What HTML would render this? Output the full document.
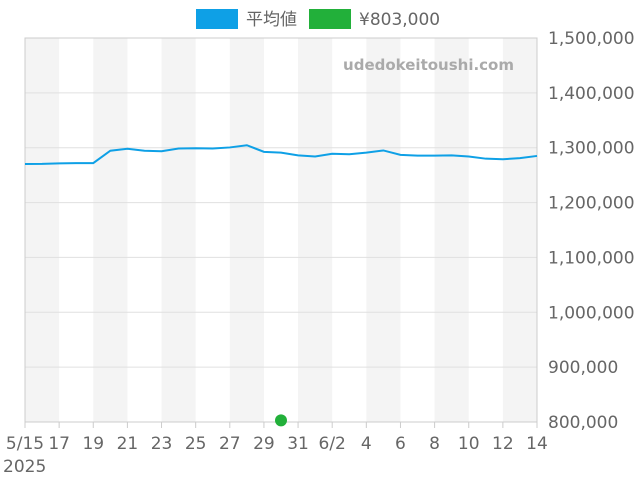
<!DOCTYPE html>
<html><head><meta charset="utf-8"><style>
body{margin:0;background:#fff;font-family:"Liberation Sans","Noto Sans CJK JP",sans-serif}
svg text{font-family:"DejaVu Sans","Liberation Sans","Noto Sans CJK JP",sans-serif}
</style></head><body>
<svg id="c" width="640" height="480"></svg>
<script>
const dates=["5/15","5/16","5/17","5/18","5/19","5/20","5/21","5/22","5/23","5/24","5/25","5/26","5/27","5/28","5/29","5/30","5/31","6/1","6/2","6/3","6/4","6/5","6/6","6/7","6/8","6/9","6/10","6/11","6/12","6/13","6/14"];
const avgValues=[1270300,1270500,1271500,1272000,1272000,1294500,1298000,1294500,1293500,1298500,1299000,1298500,1300500,1304500,1292500,1291000,1286000,1284000,1289000,1288000,1291000,1295000,1287000,1285500,1285500,1286000,1284000,1280000,1279000,1281000,1285000];
const saleIndex=[15];
const saleValues=[803000];
const yTicks=[800000,900000,1000000,1100000,1200000,1300000,1400000,1500000];
const xTickLabels=["5/15","17","19","21","23","25","27","29","31","6/2","4","6","8","10","12","14"];
const L=25,R=537,T=38,B=422,yMin=800000,yMax=1500000;
const xs=i=>L+(R-L)*i/(dates.length-1);
const ys=v=>B-(B-T)*(v-yMin)/(yMax-yMin);
const svg=document.getElementById('c');const NS='http://www.w3.org/2000/svg';
function mk(t,a,p){const e=document.createElementNS(NS,t);for(const k in a)e.setAttribute(k,a[k]);(p||svg).appendChild(e);return e;}
for(let i=0;i<dates.length-1;i+=4){
const r=mk('rect',{x:xs(i),y:T,width:xs(i+2)-xs(i),height:B-T,fill:'#f4f4f4'});

}
yTicks.forEach(v=>{
const l=mk('line',{x1:L,x2:R,y1:ys(v),y2:ys(v),stroke:'#e0e0e0'});


const t=mk('text',{x:548,y:ys(v)+6,'font-size':17,fill:'#666'});t.textContent=v.toLocaleString('en-US');

});
const fr=mk('rect',{x:L,y:T,width:R-L,height:B-T,fill:'none',stroke:'#ccc'});


xTickLabels.forEach((s,k)=>{const i=k*2;
const tk=mk('line',{x1:xs(i),x2:xs(i),y1:B,y2:B+6,stroke:'#ccc'});


const t=mk('text',{x:xs(i),y:B+27,'font-size':17,fill:'#666','text-anchor':'middle'});t.textContent=s;

});
const yr=mk('text',{x:3,y:472,'font-size':17,fill:'#666'});yr.textContent='2025';


const wm=mk('text',{x:514,y:70,'font-size':15,'font-weight':'bold',fill:'#aaa','text-anchor':'end'});wm.textContent='udedokeitoushi.com';


const ln=mk('polyline',{points:avgValues.map((v,i)=>xs(i)+','+ys(v)).join(' '),fill:'none',stroke:'#0ea0e6','stroke-width':2});


saleValues.forEach((v,k)=>{const d=mk('circle',{cx:xs(saleIndex[k]),cy:ys(v),r:6,fill:'#22b03a'});

});
const g=mk('g',{});
const r1=mk('rect',{x:196,y:9,width:42,height:20,fill:'#0ea0e6'},g);


const t1=mk('text',{x:246,y:25,'font-size':17,fill:'#666'},g);t1.textContent='平均値';


const r2=mk('rect',{x:309,y:9,width:42,height:20,fill:'#22b03a'},g);


const t2=mk('text',{x:359,y:25,'font-size':17,fill:'#666'},g);t2.textContent='¥803,000';


</script>
</body></html>
